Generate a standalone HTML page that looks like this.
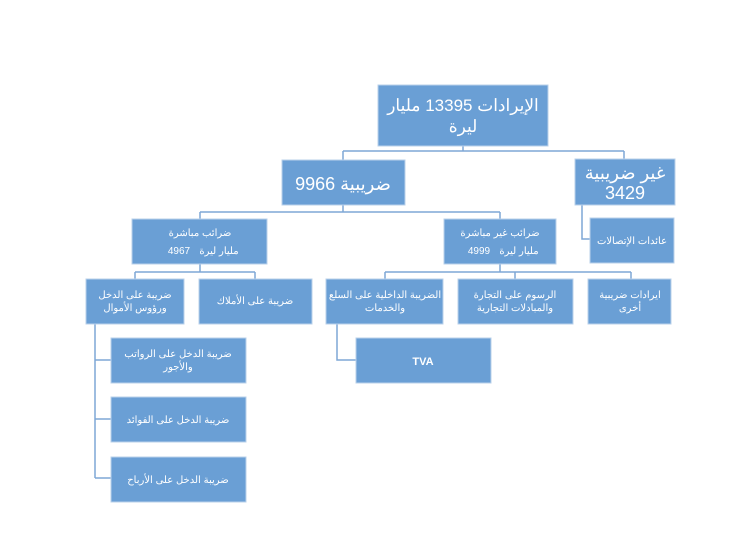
<!DOCTYPE html>
<html><head><meta charset="utf-8"><style>
html,body{margin:0;padding:0;background:#fff;width:745px;height:535px;overflow:hidden}
svg text{font-family:"Liberation Sans","Noto Sans CJK SC",sans-serif;fill:#fff;text-anchor:middle}
</style></head><body>
<svg width="745" height="535" viewBox="0 0 745 535" xmlns="http://www.w3.org/2000/svg">
<g fill="none" stroke="#7ea7d6" stroke-width="1.5">
<path d="M463 146V151M343 151H624M343 151V160M624 151V159"/>
<path d="M343 205V212M200 212H500M200 212V219M500 212V219"/>
<path d="M582 205V239H591"/>
<path d="M200 264V272M135 272H255M135 272V279M255 272V279"/>
<path d="M500 264V272M385 272H631M385 272V279M515 272V279M631 272V279"/>
<path d="M95 324V478M95 360H111M95 419H111M95 478H111"/>
<path d="M337 324V360H356"/>
</g>
<g fill="#6a9fd5" stroke="#b9d0ea" stroke-width="1">
<rect x="378" y="85" width="170" height="61"/>
<rect x="282" y="160" width="123" height="45"/>
<rect x="575" y="159" width="100" height="46"/>
<rect x="590" y="218" width="84" height="45"/>
<rect x="132" y="219" width="135" height="45"/>
<rect x="444" y="219" width="112" height="45"/>
<rect x="86" y="279" width="98" height="45"/>
<rect x="199" y="279" width="113" height="45"/>
<rect x="326" y="279" width="117" height="45"/>
<rect x="458" y="279" width="115" height="45"/>
<rect x="588" y="279" width="83" height="45"/>
<rect x="111" y="338" width="135" height="45"/>
<rect x="111" y="397" width="135" height="45"/>
<rect x="111" y="457" width="135" height="45"/>
<rect x="356" y="338" width="135" height="45"/>
</g>
<text x="463" y="111" font-size="17">الإيرادات 13395 مليار</text>
<text x="463" y="132" font-size="17">ليرة</text>
<text x="343" y="190" font-size="18">ضريبية  9966</text>
<text x="625" y="179" font-size="18">غير ضريبية</text>
<text x="625" y="199" font-size="18">3429</text>
<text x="632" y="244" font-size="10">عائدات الإتصالات</text>
<text x="200" y="236" font-size="10">ضرائب مباشرة</text>
<text x="179" y="254" font-size="10">4967</text>
<text x="219" y="254" font-size="10">مليار ليرة</text>
<text x="500" y="236" font-size="10">ضرائب غير مباشرة</text>
<text x="479" y="254" font-size="10">4999</text>
<text x="519" y="254" font-size="10">مليار ليرة</text>
<text x="135" y="298" font-size="10">ضريبة على الدخل</text>
<text x="135" y="311" font-size="10">ورؤوس الأموال</text>
<text x="255" y="304" font-size="10">ضريبة على الأملاك</text>
<text x="385" y="298" font-size="10">الضريبة الداخلية على السلع</text>
<text x="385" y="311" font-size="10">والخدمات</text>
<text x="515" y="298" font-size="10">الرسوم على التجارة</text>
<text x="515" y="311" font-size="10">والمبادلات التجارية</text>
<text x="630" y="298" font-size="10">ايرادات ضريبية</text>
<text x="630" y="311" font-size="10">أخرى</text>
<text x="178" y="357" font-size="10">ضريبة الدخل على الرواتب</text>
<text x="178" y="370" font-size="10">والأجور</text>
<text x="178" y="423" font-size="10">ضريبة الدخل على الفوائد</text>
<text x="178" y="483" font-size="10">ضريبة الدخل على الأرباح</text>
<text x="423" y="365" font-size="11" font-weight="bold">TVA</text>
</svg>
</body></html>
